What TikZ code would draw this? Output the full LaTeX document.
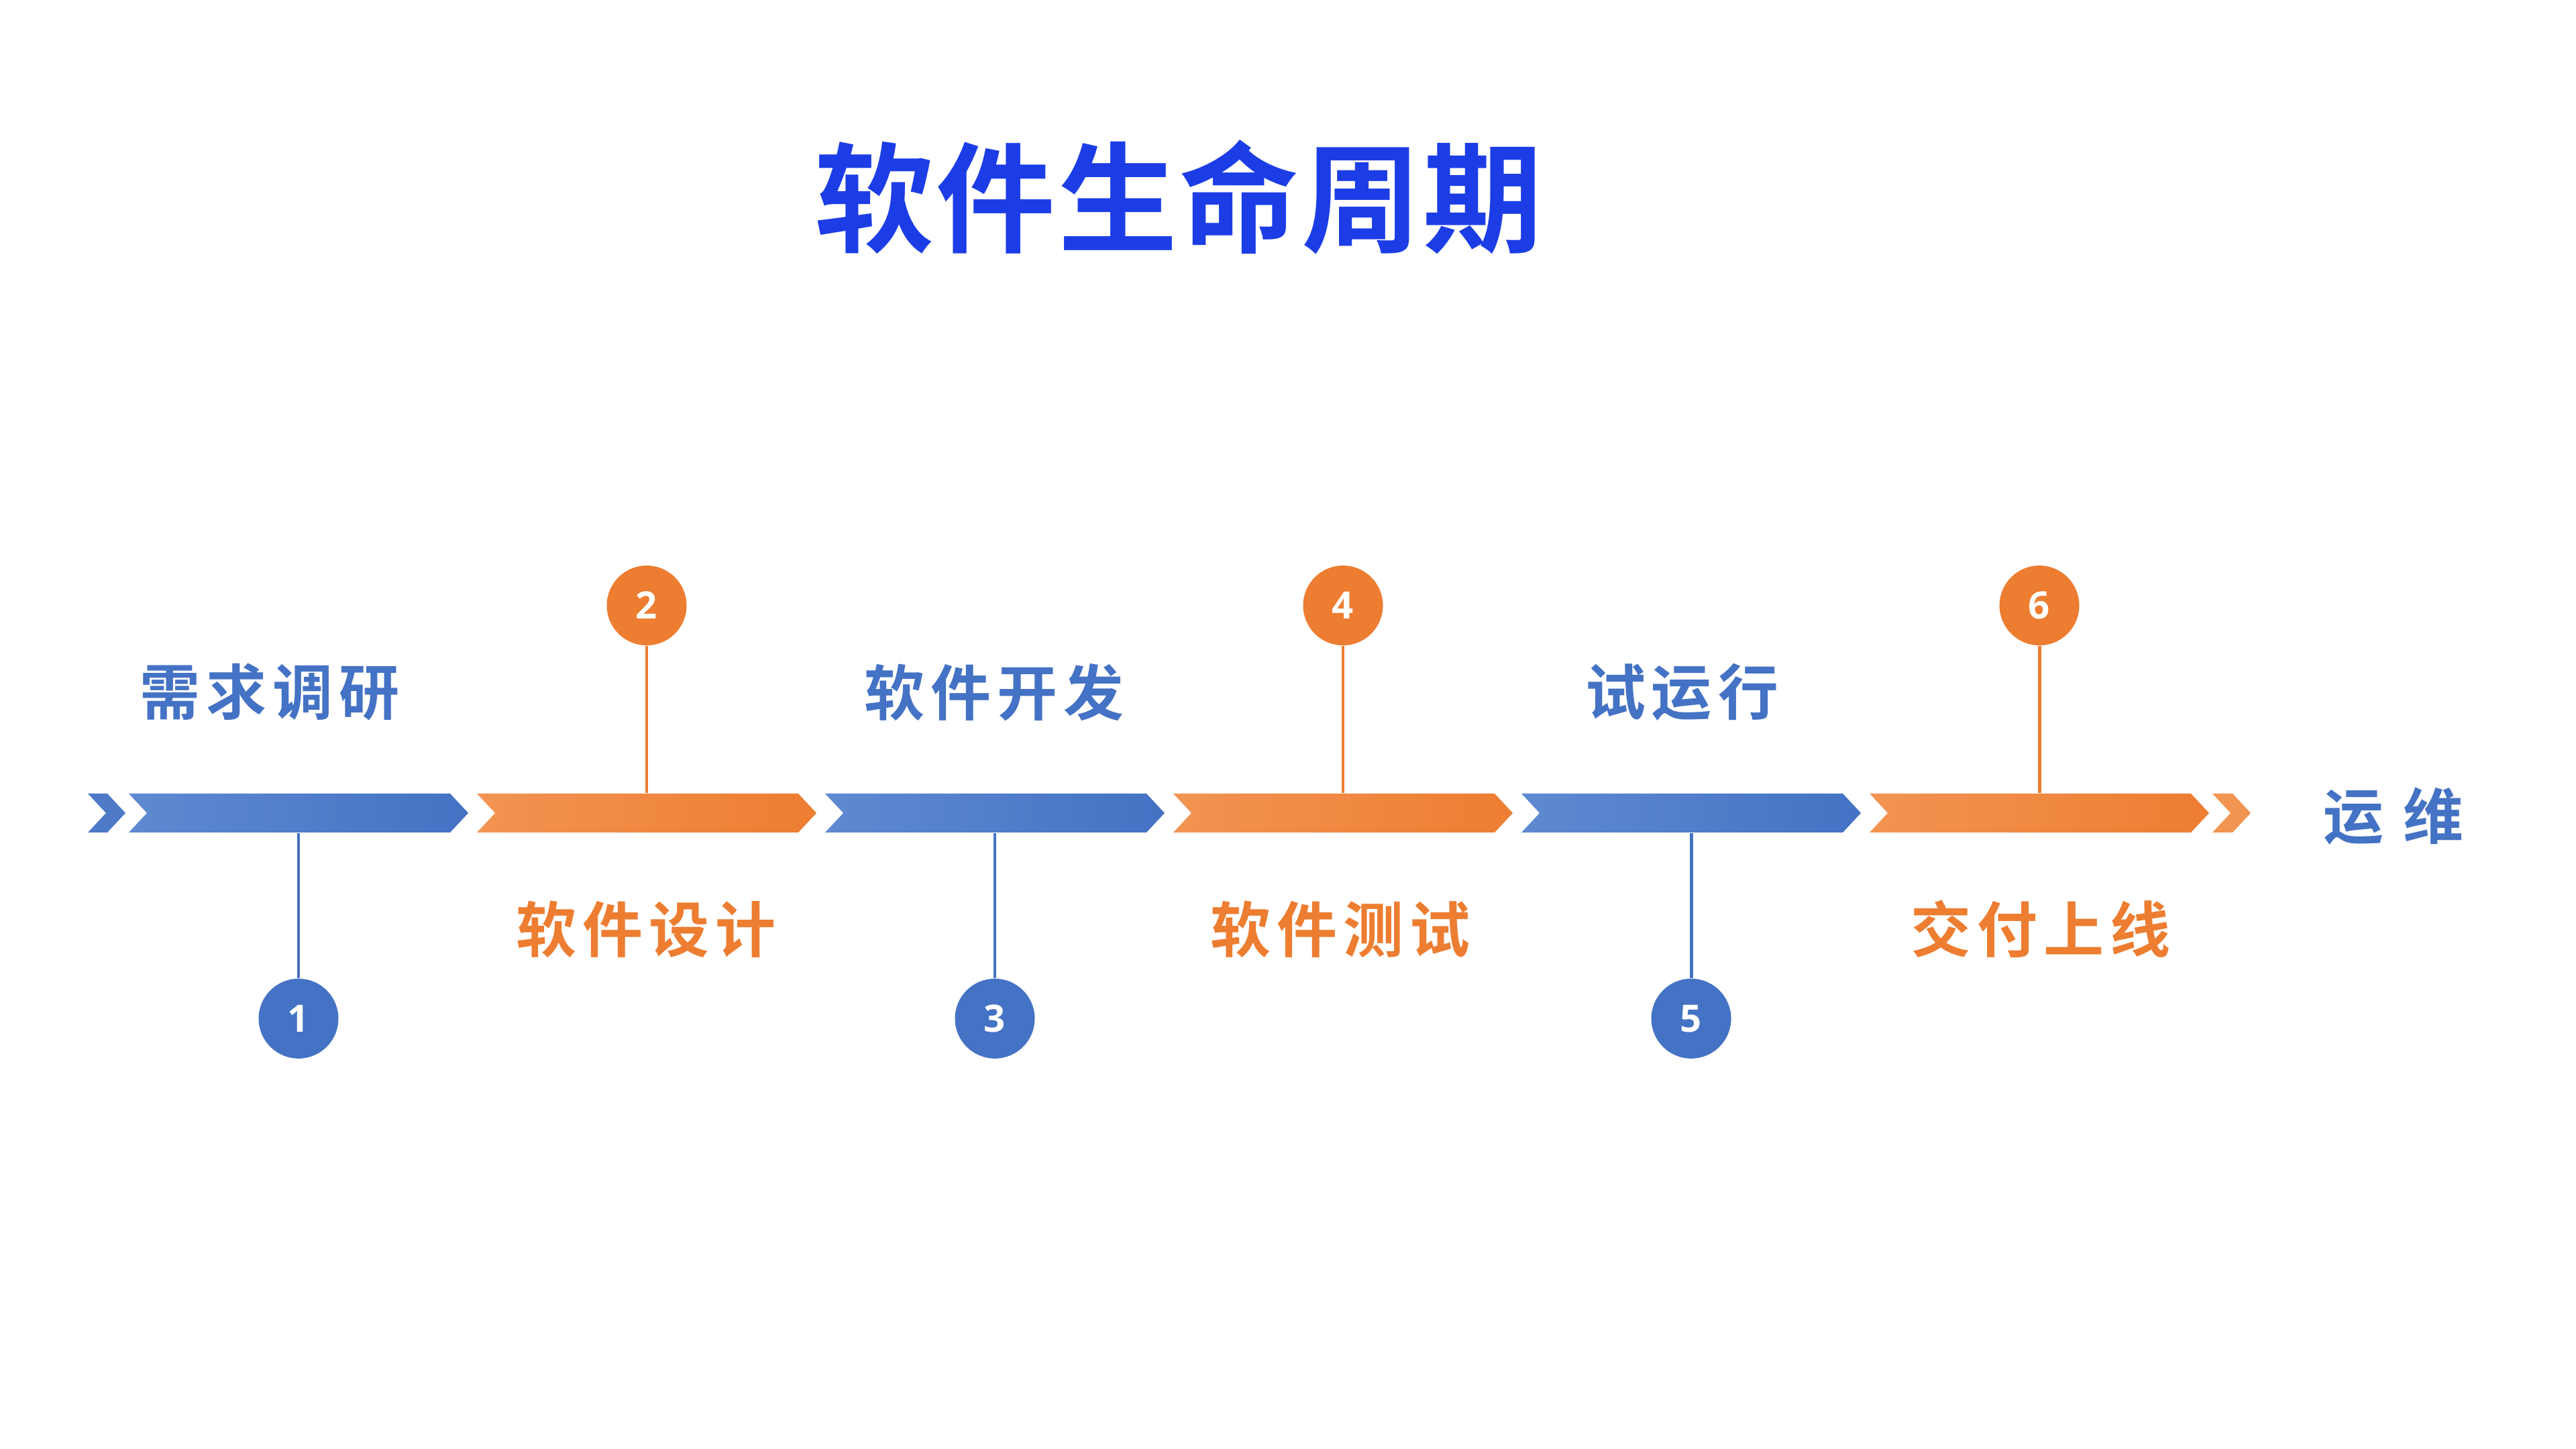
\documentclass[tikz,border=0pt]{standalone}
\usepackage{fontspec}
\setmainfont{Noto Sans CJK SC}
\newfontfamily\labelfont{Noto Sans CJK SC Bold}[LetterSpace=10]
\newfontfamily\titlefont{Noto Sans CJK SC Bold}[LetterSpace=2]
\newfontfamily\numfont{Open Sans Bold}
\usetikzlibrary{shapes.symbols,positioning}
\definecolor{stepblue}{HTML}{4472C4}
\definecolor{stepbluelt}{HTML}{5F8AD1}
\definecolor{steporange}{HTML}{ED7D31}
\definecolor{steporangelt}{HTML}{F29452}
\definecolor{titleblue}{HTML}{1C3DE6}

\begin{document}
\begin{tikzpicture}[
  seg/.style={signal, signal from=west, signal to=east, signal pointer angle=94,
    minimum width=5.06cm, minimum height=0.58cm, inner sep=0pt, draw=none},
  segb/.style={seg, left color=stepbluelt, right color=stepblue},
  sego/.style={seg, left color=steporangelt, right color=steporange},
  tipb/.style={seg, minimum width=0.56cm, fill=stepblue!95!white},
  tipo/.style={seg, minimum width=0.57cm, fill=steporangelt},
  dot/.style={circle, minimum size=1.19cm, inner sep=0pt, text=white,
    font=\numfont\fontsize{16}{16}\selectfont},
  dotb/.style={dot, fill=stepblue},
  doto/.style={dot, fill=steporange},
  link/.style={line width=1.4pt},
  lab/.style={font=\labelfont\fontsize{25.6}{26}\selectfont, inner sep=0pt},
  labb/.style={lab, text=stepblue},
  labo/.style={lab, text=steporange}
]
  \fill[white] (0,0) rectangle (38.4,21.6);
  \useasboundingbox (0,0) rectangle (38.4,21.6);

  \node[font=\titlefont\fontsize{50.6}{52}\selectfont, text=titleblue, inner sep=0pt]
    (title) at (17.57,18.66) {软件生命周期};

  % timeline bar
  \node[tipb] (start) at (1.59,9.48) {};
  \foreach \i/\x/\k in {1/4.45/b,2/9.64/o,3/14.83/b,4/20.02/o,5/25.21/b,6/30.40/o}
    \node[seg\k] (s\i) at (\x,9.48) {};
  \node[tipo] (end) at (33.265,9.48) {};

  % numbered markers
  \node[dotb, below=2.165cm of s1] (n1) {1};
  \node[doto, above=2.195cm of s2] (n2) {2};
  \node[dotb, below=2.165cm of s3] (n3) {3};
  \node[doto, above=2.195cm of s4] (n4) {4};
  \node[dotb, below=2.165cm of s5] (n5) {5};
  \node[doto, above=2.195cm of s6] (n6) {6};
  \foreach \i/\c in {1/stepblue,2/steporange,3/stepblue,4/steporange,5/stepblue,6/steporange}
    \draw[link, draw=\c] (s\i) -- (n\i);

  % stage names
  \node[labb] (l1) at (4.02,11.28) {需求调研};
  \node[labo] (l2) at (9.63,7.75) {软件设计};
  \node[labb] (l3) at (14.82,11.28) {软件开发};
  \node[labo] (l4) at (19.98,7.75) {软件测试};
  \node[labb] (l5) at (25.07,11.28) {试运行};
  \node[labo] (l6) at (30.42,7.75) {交付上线};
  \node[labb] (ops) at (35.68,9.43) {运 维};
\end{tikzpicture}
\end{document}
